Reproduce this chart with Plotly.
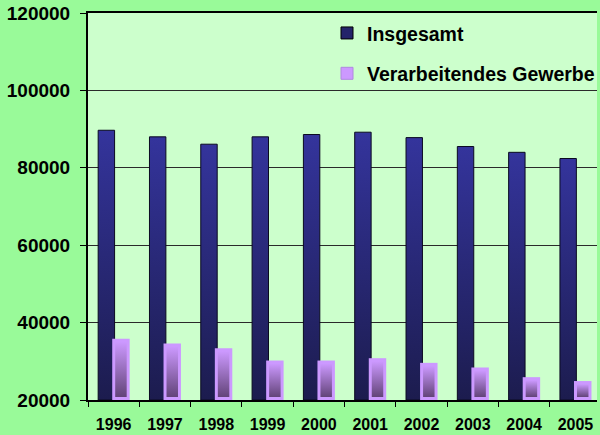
import plotly.graph_objects as go

# Beschäftigte je Jahr
years = ["1996", "1997", "1998", "1999", "2000", "2001", "2002", "2003", "2004", "2005"]
insgesamt = [89700, 88000, 86100, 88000, 88600, 89200, 87800, 85500, 84000, 82400]
verarbeitendes = [35800, 34600, 33400, 30200, 30200, 30800, 29600, 28400, 25900, 24900]

Y_MIN, Y_MAX = 20000, 120000

# bar geometry in category units
OFF_A, W_A = -0.142, 0.32
OFF_B, W_B = 0.142, 0.34
INSET_X = 0.058
INSET_Y = 780

FONT = "Arial, Liberation Sans, sans-serif"

fig = go.Figure()


def rect(xc, w, y0, y1):
    return ([xc - w / 2, xc + w / 2, xc + w / 2, xc - w / 2, xc - w / 2],
            [y0, y0, y1, y1, y0])


# Insgesamt: navy bars with vertical gradient
for i, v in enumerate(insgesamt):
    xs, ys = rect(i + OFF_A, W_A, Y_MIN, v)
    fig.add_trace(go.Scatter(
        x=xs, y=ys, mode="lines", fill="toself",
        line=dict(color="#0a0a20", width=1),
        fillgradient=dict(type="vertical",
                          colorscale=[[0, "#1c1c4e"], [1, "#34349c"]]),
        showlegend=False, hoverinfo="skip"))

# Verarbeitendes Gewerbe: light purple frame with darker inner gradient
for i, v in enumerate(verarbeitendes):
    xs, ys = rect(i + OFF_B, W_B, Y_MIN, v)
    fig.add_trace(go.Scatter(
        x=xs, y=ys, mode="lines", fill="toself",
        line=dict(color="#cc99ff", width=0), fillcolor="#cc99ff",
        showlegend=False, hoverinfo="skip"))
    xs, ys = rect(i + OFF_B, W_B - 2 * INSET_X, Y_MIN + INSET_Y, v - INSET_Y)
    fig.add_trace(go.Scatter(
        x=xs, y=ys, mode="lines", fill="toself",
        line=dict(color="#cc99ff", width=0),
        fillgradient=dict(type="vertical",
                          colorscale=[[0, "#634479"], [1, "#cc99ff"]]),
        showlegend=False, hoverinfo="skip"))

# legend entries
fig.add_trace(go.Bar(x=[None], y=[None], name="Insgesamt", legendgroup="a",
                     marker=dict(color="#24246a", line=dict(color="#000000", width=1))))
fig.add_trace(go.Bar(x=[None], y=[None], name="Verarbeitendes Gewerbe", legendgroup="b",
                     marker=dict(color="#cc99ff", line=dict(color="#b088e0", width=1))))

fig.update_layout(
    width=600, height=435,
    margin=dict(l=88, r=0, t=13, b=35),
    paper_bgcolor="#99fa99",
    plot_bgcolor="#ccffcc",
    font=dict(family=FONT, color="#000000"),
    legend=dict(x=0.47, y=0.998, xanchor="left", yanchor="top",
                bgcolor="rgba(0,0,0,0)", traceorder="grouped",
                tracegroupgap=12,
                font=dict(family=FONT, size=19.5, weight="bold", color="#000000")),
    xaxis=dict(
        range=[-0.5, 9.42],
        tickmode="array", tickvals=list(range(len(years))), ticktext=years,
        ticks="", showgrid=False, zeroline=False,
        showline=True, linecolor="#000000", linewidth=2, mirror=True,
        ticklabelstandoff=9,
        tickfont=dict(family=FONT, size=16, weight="bold"),
        minor=dict(ticks="outside", tick0=-0.5, dtick=1, ticklen=5,
                   tickcolor="#000000", tickwidth=1, showgrid=False),
    ),
    yaxis=dict(
        range=[Y_MIN, Y_MAX], dtick=20000, tick0=0, tickformat="d",
        showgrid=True, gridcolor="#2a2a2a", gridwidth=1,
        zeroline=False,
        showline=True, linecolor="#000000", linewidth=2,
        ticks="outside", ticklen=6, tickcolor="#000000",
        ticklabelstandoff=6,
        tickfont=dict(family=FONT, size=19, weight="bold"),
    ),
)

fig.write_html("out.html")
